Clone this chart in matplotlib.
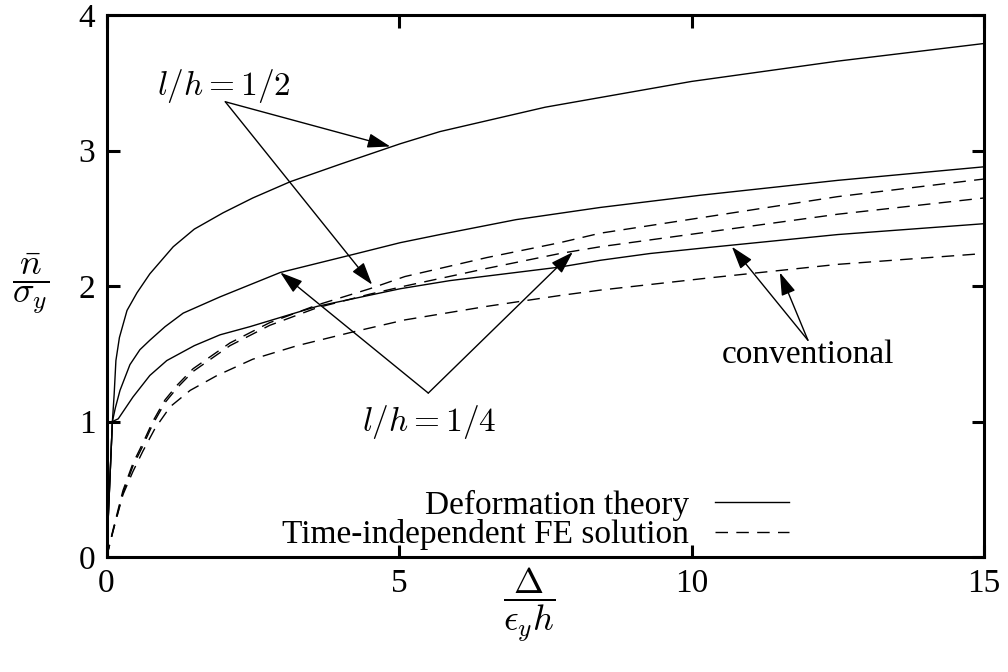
import matplotlib
matplotlib.use("Agg")
import matplotlib.pyplot as plt

plt.rcParams['font.family'] = ['Liberation Serif', 'DejaVu Serif']
plt.rcParams['mathtext.fontset'] = 'cm'

# deformation theory (solid) curves
x_half = [0, 0.1, 0.13, 0.16, 0.22, 0.35, 0.52, 0.74, 1.14, 1.5, 1.99, 2.5, 3.14, 4.0, 5.02, 5.7, 7.5, 10, 12.5, 15]
y_half = [0, 1.0, 1.2, 1.45, 1.62, 1.82, 1.95, 2.09, 2.29, 2.42, 2.54, 2.65, 2.77, 2.90, 3.05, 3.14, 3.32, 3.51, 3.66, 3.79]

x_quarter = [0, 0.1, 0.15, 0.23, 0.4, 0.57, 0.74, 1.0, 1.31, 1.94, 2.97, 4.28, 5.02, 5.7, 7.0, 8.44, 10.15, 12.5, 15]
y_quarter = [0, 1.0, 1.1, 1.23, 1.42, 1.53, 1.60, 1.70, 1.80, 1.92, 2.10, 2.24, 2.32, 2.38, 2.49, 2.58, 2.67, 2.78, 2.88]

x_conv = [0, 0.1, 0.2, 0.45, 0.74, 1.03, 1.5, 1.94, 2.45, 3.6, 5.02, 5.87, 7.75, 8.44, 9.29, 10.3, 12.5, 15]
y_conv = [0, 1.0, 1.02, 1.18, 1.34, 1.45, 1.56, 1.64, 1.70, 1.85, 1.98, 2.04, 2.14, 2.19, 2.24, 2.285, 2.38, 2.46]

# time-independent FE (dashed) curves
x_fe_half = [0, 0.11, 0.28, 0.45, 0.62, 0.79, 1.0, 1.21, 1.48, 2.11, 2.79, 3.6, 4.5, 5.1, 6.5, 7.75, 8.44, 10.4, 12.5, 15]
y_fe_half = [0, 0.2, 0.49, 0.69, 0.84, 1.0, 1.16, 1.27, 1.39, 1.58, 1.73, 1.86, 1.98, 2.07, 2.21, 2.32, 2.39, 2.52, 2.66, 2.79]

x_fe_quarter = [0, 0.11, 0.28, 0.45, 0.62, 0.79, 1.0, 1.21, 1.48, 2.11, 2.79, 3.6, 4.5, 5.1, 6.5, 7.75, 8.44, 10.3, 12.5, 15]
y_fe_quarter = [0, 0.19, 0.47, 0.67, 0.82, 0.98, 1.14, 1.25, 1.37, 1.56, 1.71, 1.84, 1.94, 2.00, 2.13, 2.24, 2.29, 2.40, 2.53, 2.65]

x_fe_conv = [0, 0.11, 0.28, 0.45, 0.62, 0.83, 1.09, 1.43, 1.89, 2.5, 3.26, 4.2, 5.1, 6.5, 7.75, 8.44, 10.3, 12.5, 15]
y_fe_conv = [0, 0.19, 0.46, 0.63, 0.78, 0.95, 1.11, 1.23, 1.34, 1.46, 1.56, 1.66, 1.75, 1.85, 1.93, 1.97, 2.06, 2.16, 2.24]

xticks = [0, 5, 10, 15]
yticks = [0, 1, 2, 3, 4]

fig = plt.figure(figsize=(10.08, 6.72), dpi=100)
ax = fig.add_axes([0.1057, 0.1711, 0.8705, 0.8065])

dash = (0, (9, 6))
ax.plot(x_half, y_half, 'k-', lw=1.0, label='Deformation theory')
ax.plot(x_quarter, y_quarter, 'k-', lw=1.0)
ax.plot(x_conv, y_conv, 'k-', lw=1.0)
ax.plot(x_fe_half, y_fe_half, color='k', ls=dash, lw=1.0, label='Time-independent FE solution')
ax.plot(x_fe_quarter, y_fe_quarter, color='k', ls=dash, lw=1.0)
ax.plot(x_fe_conv, y_fe_conv, color='k', ls=dash, lw=1.0)

ax.set_xlim(0, 15)
ax.set_ylim(0, 4)
ax.set_xticks(xticks)
ax.set_yticks(yticks)
ax.tick_params(direction='in', top=True, right=True, length=9, width=2.2,
               labelsize=24, pad=8)
for sp in ax.spines.values():
    sp.set_linewidth(2.2)

# annotation arrows
arrow = dict(arrowstyle='-|>,head_length=0.5,head_width=0.16', mutation_scale=28,
             color='k', lw=1.0, shrinkA=0, shrinkB=0)


def arrows(origin, tips):
    for tip in tips:
        ax.annotate('', xy=tip, xytext=origin, arrowprops=arrow)


ax.text(2.01, 3.48, r'$l/h = 1/2$', fontsize=24, ha='center', va='center')
arrows((2.03, 3.36), [(4.85, 3.03), (4.54, 2.01)])

ax.text(5.51, 1.0, r'$l/h = 1/4$', fontsize=24, ha='center', va='center')
arrows((5.50, 1.21), [(2.97, 2.10), (7.97, 2.25)])

ax.text(11.99, 1.49, 'conventional', fontsize=24, ha='center', va='center')
arrows((11.99, 1.60), [(10.69, 2.29), (11.51, 2.10)])

ax.legend(loc='lower right', bbox_to_anchor=(0.785, 0.0), frameon=False,
          markerfirst=False, fontsize=24, handlelength=2.2, handletextpad=0.8,
          labelspacing=-0.04, borderaxespad=0.1, borderpad=0.1)

fig.text(0.03, 0.578, r'$\dfrac{\bar{n}}{\sigma_y}$', fontsize=26, ha='center', va='center')
fig.text(0.525, 0.10, r'$\dfrac{\Delta}{\epsilon_y h}$', fontsize=26, ha='center', va='center')

fig.savefig('out.png', dpi=100)
